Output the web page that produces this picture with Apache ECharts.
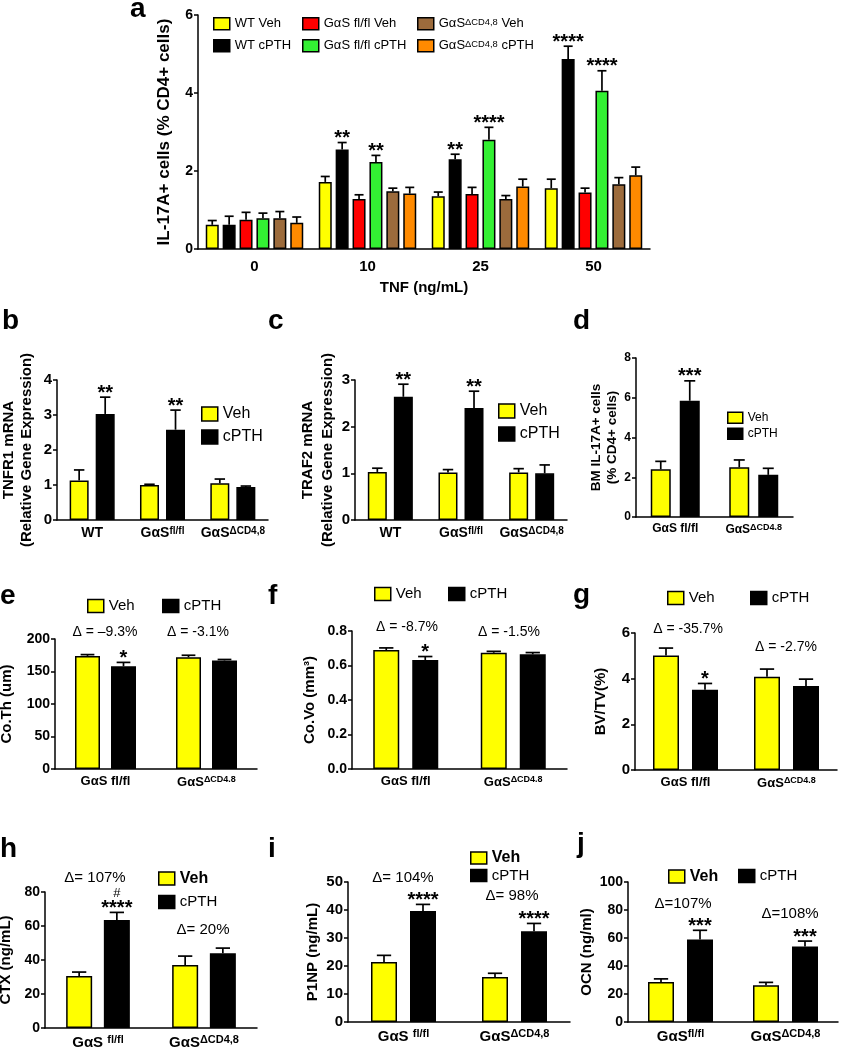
<!DOCTYPE html>
<html><head><meta charset="utf-8">
<script src="https://cdn.jsdelivr.net/npm/echarts@6/dist/echarts.min.js"></script>
<style>html,body{margin:0;padding:0;background:#fff}#c{width:845px;height:1050px}</style>
</head><body><div id="c"></div>
<script>
// ---------------- DATA ----------------
// panel a
const catA = ['0', '10', '25', '50'];
const aWTVeh = [0.62, 1.72, 1.35, 1.56], aWTVehSem = [0.11, 0.14, 0.11, 0.23];
const aWTcPTH = [0.62, 2.55, 2.30, 4.87], aWTcPTHSem = [0.22, 0.18, 0.13, 0.33];
const aFlVeh = [0.75, 1.28, 1.41, 1.45], aFlVehSem = [0.19, 0.11, 0.17, 0.11];
const aFlcPTH = [0.79, 2.23, 2.80, 4.06], aFlcPTHSem = [0.13, 0.17, 0.32, 0.51];
const aKoVeh = [0.79, 1.48, 1.28, 1.66], aKoVehSem = [0.17, 0.08, 0.09, 0.17];
const aKocPTH = [0.67, 1.42, 1.60, 1.89], aKocPTHSem = [0.15, 0.16, 0.19, 0.21];
const aWTcPTHSig = ['', '**', '**', '****'];
const aFlcPTHSig = ['', '**', '****', '****'];
// panels b, c
const catBC = ['WT', 'GαS^fl/fl', 'GαS^ΔCD4,8'];
const bVeh = [1.13, 1.00, 1.05], bVehSem = [0.30, 0.02, 0.12];
const bCPTH = [3.03, 2.58, 0.94], bCPTHSem = [0.48, 0.56, 0.03];
const bSig = ['**', '**', ''];
const cVeh = [1.03, 1.02, 1.02], cVehSem = [0.08, 0.06, 0.08];
const cCPTH = [2.64, 2.40, 1.00], cCPTHSem = [0.27, 0.36, 0.18];
const cSig = ['**', '**', ''];
// panel d
const catD = ['GαS fl/fl', 'GαS^ΔCD4.8'];
const dVeh = [2.40, 2.50], dVehSem = [0.40, 0.37];
const dCPTH = [5.85, 2.12], dCPTHSem = [1.00, 0.33];
const dSig = ['***', ''];
// panels e, f, g
const catEFG = ['GαS fl/fl', 'GαS^ΔCD4.8'];
const eVeh = [174, 172], eVehSem = [2, 3];
const eCPTH = [158, 167], eCPTHSem = [6, 1.5];
const eSig = ['*', ''];
const eDelta = ['Δ = –9.3%', 'Δ = -3.1%'];
const fVeh = [0.690, 0.674], fVehSem = [0.012, 0.008];
const fCPTH = [0.632, 0.665], fCPTHSem = [0.020, 0.010];
const fSig = ['*', ''];
const fDelta = ['Δ = -8.7%', 'Δ = -1.5%'];
const gVeh = [5.02, 4.08], gVehSem = [0.32, 0.34];
const gCPTH = [3.52, 3.68], gCPTHSem = [0.27, 0.30];
const gSig = ['*', ''];
const gDelta = ['Δ = -35.7%', 'Δ = -2.7%'];
// panels h, i, j
const catHI = ['GαS ^fl/fl', 'GαS^ΔCD4,8'];
const catJ = ['GαS^fl/fl', 'GαS^ΔCD4,8'];
const hVeh = [30.6, 37.0], hVehSem = [2.3, 5.3];
const hCPTH = [63.5, 44.0], hCPTHSem = [4.5, 3.0];
const hSig = ['****', ''], hHash = ['#', ''];
const hDelta = ['Δ= 107%', 'Δ= 20%'];
const iVeh = [21.4, 16.1], iVehSem = [2.4, 1.3];
const iCPTH = [39.6, 32.4], iCPTHSem = [2.4, 2.8];
const iSig = ['****', '****'];
const iDelta = ['Δ= 104%', 'Δ= 98%'];
const jVeh = [28.6, 26.2], jVehSem = [2.2, 2.1];
const jCPTH = [59.0, 54.0], jCPTHSem = [6.5, 3.8];
const jSig = ['***', '***'];
const jDelta = ['Δ=107%', 'Δ=108%'];

// ---------------- STYLE ----------------
const FONT = '"Liberation Sans", Arial, Helvetica, sans-serif';
const YEL = '#ffff00', BLK = '#000000', RED = '#ff0000', GRN = '#33f033', BRN = '#9c6b3c', ORG = '#ff8a00';

const grids = [], xAxes = [], yAxes = [], series = [], legends = [], graphics = [];

function catFmt(v) {
  if (v.indexOf('^') >= 0) { const p = v.split('^'); return '{m|' + p[0] + '}{s|' + p[1] + '}'; }
  return '{m|' + v + '}';
}

function addPanel(p) {
  const gi = grids.length;
  grids.push({ left: p.left, top: p.top, width: p.width, height: p.height, outerBoundsMode: 'none', containLabel: false });
  xAxes.push({
    type: 'category', gridIndex: gi, data: p.cats,
    axisLine: { lineStyle: { color: '#000', width: 1.5 } },
    axisTick: { alignWithLabel: true, length: 4, lineStyle: { color: '#000', width: 1.5 } },
    axisLabel: {
      color: '#000', margin: p.xMargin || 6, interval: 0, formatter: catFmt,
      rich: {
        m: { fontFamily: FONT, fontWeight: 'bold', fontSize: p.xSize, color: '#000' },
        s: { fontFamily: FONT, fontWeight: 'bold', fontSize: p.supSize, color: '#000', verticalAlign: 'top', padding: [0, 0, Math.round(p.supSize * 0.5), 0] }
      }
    },
    name: p.xName || '', nameLocation: 'middle', nameGap: p.xNameGap || 30,
    nameTextStyle: { fontFamily: FONT, fontWeight: 'bold', fontSize: 15, color: '#000' }
  });
  yAxes.push({
    type: 'value', gridIndex: gi, min: 0, max: p.max, interval: p.interval,
    splitLine: { show: false },
    axisLine: { show: true, lineStyle: { color: '#000', width: 1.5 } },
    axisTick: { show: true, length: 4, lineStyle: { color: '#000', width: 1.5 } },
    axisLabel: { color: '#000', fontFamily: FONT, fontWeight: 'bold', fontSize: p.tickSize, margin: 5, formatter: p.yFmt || null },
    name: p.yName, nameLocation: 'middle', nameRotate: 90, nameGap: p.yGap,
    nameTextStyle: { fontFamily: FONT, fontWeight: 'bold', fontSize: p.yNameSize, lineHeight: p.yLine || p.yNameSize * 1.2, color: '#000', align: 'center' }
  });
  const n = p.groups.length;
  const gapPx = p.bw * p.gapRatio;
  p.groups.forEach((g, k) => {
    series.push({
      type: 'bar', name: g.name, xAxisIndex: gi, yAxisIndex: gi, data: g.mean,
      barWidth: p.bw, barGap: (p.gapRatio * 100) + '%',
      itemStyle: { color: g.color, borderColor: '#000', borderWidth: 1.5 },
      silent: true, z: 2
    });
    const off = (k - (n - 1) / 2) * (p.bw + gapPx);
    const cap = Math.max(9, p.bw * 0.55);
    series.push({
      type: 'custom', name: g.name + ' err', xAxisIndex: gi, yAxisIndex: gi,
      data: g.mean.map((m, i) => [i, m, m + g.sem[i]]),
      encode: { x: 0, y: [1, 2] }, silent: true, z: 5,
      renderItem: function (params, api) {
        const i = params.dataIndex;
        const top = api.coord([api.value(0), api.value(2)]);
        const base = api.coord([api.value(0), api.value(1)]);
        const x = top[0] + off;
        const ch = [
          { type: 'line', shape: { x1: x, y1: base[1], x2: x, y2: top[1] }, style: { stroke: '#000', lineWidth: 1.7 } },
          { type: 'line', shape: { x1: x - cap / 2, y1: top[1], x2: x + cap / 2, y2: top[1] }, style: { stroke: '#000', lineWidth: 1.7 } }
        ];
        if (g.sig && g.sig[i]) {
          ch.push({ type: 'text', style: { text: g.sig[i], x: x, y: top[1] - 4, align: 'center', verticalAlign: 'middle', font: 'bold 20px ' + FONT, fill: '#000' } });
        }
        if (g.hash && g.hash[i]) {
          ch.push({ type: 'text', style: { text: g.hash[i], x: x, y: top[1] - 19, align: 'center', verticalAlign: 'middle', font: '13px ' + FONT, fill: '#000' } });
        }
        return { type: 'group', children: ch };
      }
    });
  });
}

function addLegend(name, x, yc, w, h, fs, bold) {
  legends.push({
    data: [{ name: name, textStyle: { fontWeight: bold ? 'bold' : 'normal' } }],
    left: x, top: yc - h / 2, itemWidth: w, itemHeight: h, padding: 0, itemGap: 0,
    icon: 'rect', selectedMode: false,
    itemStyle: { borderColor: '#000', borderWidth: 1.5 },
    formatter: function (nm) {
      if (nm.indexOf('^') >= 0) {
        const p = nm.split('^'); const q = p[1].split(' ');
        return '{m|' + p[0] + '}{s|' + q[0] + '}{m| ' + q.slice(1).join(' ') + '}';
      }
      return nm;
    },
    textStyle: {
      fontFamily: FONT, fontSize: fs, color: '#000', lineHeight: h,
      rich: { m: { fontFamily: FONT, fontSize: fs, color: '#000' }, s: { fontFamily: FONT, fontSize: fs * 0.72, color: '#000', verticalAlign: 'top' } }
    }
  });
}

function addText(t, x, y, font, align) {
  graphics.push({ type: 'text', x: x, y: y, silent: true, style: { text: t, font: font, fill: '#000', align: align || 'center', verticalAlign: 'middle' } });
}

// ---------------- PANELS ----------------
addPanel({
  left: 198, top: 15, width: 452, height: 234, max: 6, interval: 2, cats: catA, bw: 13, gapRatio: 0.3,
  yName: 'IL-17A+ cells (% CD4+ cells)', yNameSize: 17, yGap: 12, tickSize: 14, xSize: 15, supSize: 10, xMargin: 10,
  xName: 'TNF (ng/mL)', xNameGap: 31,
  groups: [
    { name: 'WT Veh', mean: aWTVeh, sem: aWTVehSem, color: YEL },
    { name: 'WT cPTH', mean: aWTcPTH, sem: aWTcPTHSem, color: BLK, sig: aWTcPTHSig },
    { name: 'GαS fl/fl Veh', mean: aFlVeh, sem: aFlVehSem, color: RED },
    { name: 'GαS fl/fl cPTH', mean: aFlcPTH, sem: aFlcPTHSem, color: GRN, sig: aFlcPTHSig },
    { name: 'GαS^ΔCD4,8 Veh', mean: aKoVeh, sem: aKoVehSem, color: BRN },
    { name: 'GαS^ΔCD4,8 cPTH', mean: aKocPTH, sem: aKocPTHSem, color: ORG }
  ]
});
addPanel({
  left: 57, top: 380, width: 211, height: 140, max: 4, interval: 1, cats: catBC, bw: 19, gapRatio: 0.37,
  yName: 'TNFR1 mRNA\n(Relative Gene Expression)', yNameSize: 15, yLine: 18, yGap: 21, tickSize: 15, xSize: 14, supSize: 10,
  groups: [
    { name: 'Veh', mean: bVeh, sem: bVehSem, color: YEL },
    { name: 'cPTH', mean: bCPTH, sem: bCPTHSem, color: BLK, sig: bSig }
  ]
});
addPanel({
  left: 355, top: 380, width: 212, height: 140, max: 3, interval: 1, cats: catBC, bw: 19, gapRatio: 0.37,
  yName: 'TRAF2 mRNA\n(Relative Gene Expression)', yNameSize: 15, yLine: 20, yGap: 16, tickSize: 15, xSize: 14, supSize: 10,
  groups: [
    { name: 'Veh', mean: cVeh, sem: cVehSem, color: YEL },
    { name: 'cPTH', mean: cCPTH, sem: cCPTHSem, color: BLK, sig: cSig }
  ]
});
addPanel({
  left: 636, top: 358, width: 157, height: 159, max: 8, interval: 2, cats: catD, bw: 20, gapRatio: 0.45,
  yName: 'BM IL-17A+ cells\n(% CD4+ cells)', yNameSize: 13.5, yLine: 16, yGap: 14, tickSize: 12, xSize: 12, supSize: 9,
  groups: [
    { name: 'Veh', mean: dVeh, sem: dVehSem, color: YEL },
    { name: 'cPTH', mean: dCPTH, sem: dCPTHSem, color: BLK, sig: dSig }
  ]
});
addPanel({
  left: 55, top: 639, width: 202, height: 130, max: 200, interval: 50, cats: catEFG, bw: 25, gapRatio: 0.44,
  yName: 'Co.Th (um)', yNameSize: 15, yGap: 39, tickSize: 14, xSize: 13, supSize: 9,
  groups: [
    { name: 'Veh', mean: eVeh, sem: eVehSem, color: YEL },
    { name: 'cPTH', mean: eCPTH, sem: eCPTHSem, color: BLK, sig: eSig }
  ]
});
addPanel({
  left: 352, top: 631, width: 215, height: 138, max: 0.8, interval: 0.2, cats: catEFG, bw: 26, gapRatio: 0.5,
  yName: 'Co.Vo (mm³)', yNameSize: 15, yGap: 33, tickSize: 14, xSize: 13, supSize: 9, yFmt: v => v.toFixed(1),
  groups: [
    { name: 'Veh', mean: fVeh, sem: fVehSem, color: YEL },
    { name: 'cPTH', mean: fCPTH, sem: fCPTHSem, color: BLK, sig: fSig }
  ]
});
addPanel({
  left: 635, top: 633, width: 202, height: 137, max: 6, interval: 2, cats: catEFG, bw: 26, gapRatio: 0.5,
  yName: 'BV/TV(%)', yNameSize: 15, yGap: 25, tickSize: 15, xSize: 13, supSize: 9,
  groups: [
    { name: 'Veh', mean: gVeh, sem: gVehSem, color: YEL },
    { name: 'cPTH', mean: gCPTH, sem: gCPTHSem, color: BLK, sig: gSig }
  ]
});
addPanel({
  left: 45, top: 892, width: 212, height: 136, max: 80, interval: 20, cats: catHI, bw: 26, gapRatio: 0.45,
  yName: 'CTX (ng/mL)', yNameSize: 15, yGap: 30, tickSize: 14, xSize: 15, supSize: 11,
  groups: [
    { name: 'Veh', mean: hVeh, sem: hVehSem, color: YEL },
    { name: 'cPTH', mean: hCPTH, sem: hCPTHSem, color: BLK, sig: hSig, hash: hHash }
  ]
});
addPanel({
  left: 348, top: 882, width: 222, height: 140, max: 50, interval: 10, cats: catHI, bw: 26, gapRatio: 0.5,
  yName: 'P1NP (ng/mL)', yNameSize: 15, yGap: 26, tickSize: 15, xSize: 15, supSize: 11,
  groups: [
    { name: 'Veh', mean: iVeh, sem: iVehSem, color: YEL },
    { name: 'cPTH', mean: iCPTH, sem: iCPTHSem, color: BLK, sig: iSig }
  ]
});
addPanel({
  left: 628, top: 882, width: 210, height: 140, max: 100, interval: 20, cats: catJ, bw: 26, gapRatio: 0.5,
  yName: 'OCN (ng/ml)', yNameSize: 15, yGap: 25, tickSize: 14, xSize: 15, supSize: 11,
  groups: [
    { name: 'Veh', mean: jVeh, sem: jVehSem, color: YEL },
    { name: 'cPTH', mean: jCPTH, sem: jCPTHSem, color: BLK, sig: jSig }
  ]
});

// ---------------- LEGENDS ----------------
addLegend('WT Veh', 213, 23, 16, 12, 13);
addLegend('WT cPTH', 213, 45, 16, 12, 13);
addLegend('GαS fl/fl Veh', 302, 23, 16, 12, 13);
addLegend('GαS fl/fl cPTH', 302, 45, 16, 12, 13);
addLegend('GαS^ΔCD4,8 Veh', 417, 23, 16, 12, 13);
addLegend('GαS^ΔCD4,8 cPTH', 417, 45, 16, 12, 13);
// b
addLegend('Veh', 201, 413, 16, 14, 16); addLegend('cPTH', 201, 436, 16, 14, 16);
// c
addLegend('Veh', 498, 410, 16, 14, 16); addLegend('cPTH', 498, 433, 16, 14, 16);
// d
addLegend('Veh', 727, 417, 15, 11, 12); addLegend('cPTH', 727, 433, 15, 11, 12);
// e
addLegend('Veh', 87, 605, 16, 13, 15); addLegend('cPTH', 162, 605, 16, 13, 15);
// f
addLegend('Veh', 374, 593, 16, 13, 15); addLegend('cPTH', 448, 593, 16, 13, 15);
// g
addLegend('Veh', 667, 597, 16, 13, 15); addLegend('cPTH', 750, 597, 16, 13, 15);
// h
addLegend('Veh', 158, 877, 16, 13, 16, true); addLegend('cPTH', 158, 901, 16, 13, 15);
// i
addLegend('Veh', 470, 856, 16, 12, 16, true); addLegend('cPTH', 470, 874, 16, 12, 15);
// j
addLegend('Veh', 668, 875, 16, 13, 16, true); addLegend('cPTH', 738, 875, 16, 13, 15);

// ---------------- TEXT ----------------
const LF = 'bold 28px ' + FONT;
addText('a', 130, 9, LF, 'left');
addText('b', 2, 321, LF, 'left');
addText('c', 268, 321, LF, 'left');
addText('d', 573, 321, LF, 'left');
addText('e', 0, 596, LF, 'left');
addText('f', 268, 596, LF, 'left');
addText('g', 573, 595, LF, 'left');
addText('h', 0, 849, LF, 'left');
addText('i', 268, 849, LF, 'left');
addText('j', 577, 844, LF, 'left');

const DF = '14px ' + FONT;
addText(eDelta[0], 105, 632, DF); addText(eDelta[1], 198, 632, DF);
addText(fDelta[0], 407, 627, DF); addText(fDelta[1], 509, 632, DF);
addText(gDelta[0], 688, 629, DF); addText(gDelta[1], 786, 647, DF);
addText(hDelta[0], 95, 878, '15px ' + FONT); addText(hDelta[1], 203, 930, '15px ' + FONT);
addText(iDelta[0], 403, 878, '15px ' + FONT); addText(iDelta[1], 512, 896, '15px ' + FONT);
addText(jDelta[0], 683, 904, '15px ' + FONT); addText(jDelta[1], 790, 914, '15px ' + FONT);

const chart = echarts.init(document.getElementById('c'), null, { renderer: 'canvas' });
chart.setOption({
  animation: false,
  backgroundColor: '#fff',
  textStyle: { fontFamily: FONT },
  grid: grids, xAxis: xAxes, yAxis: yAxes, legend: legends, series: series, graphic: graphics
});
</script></body></html>
